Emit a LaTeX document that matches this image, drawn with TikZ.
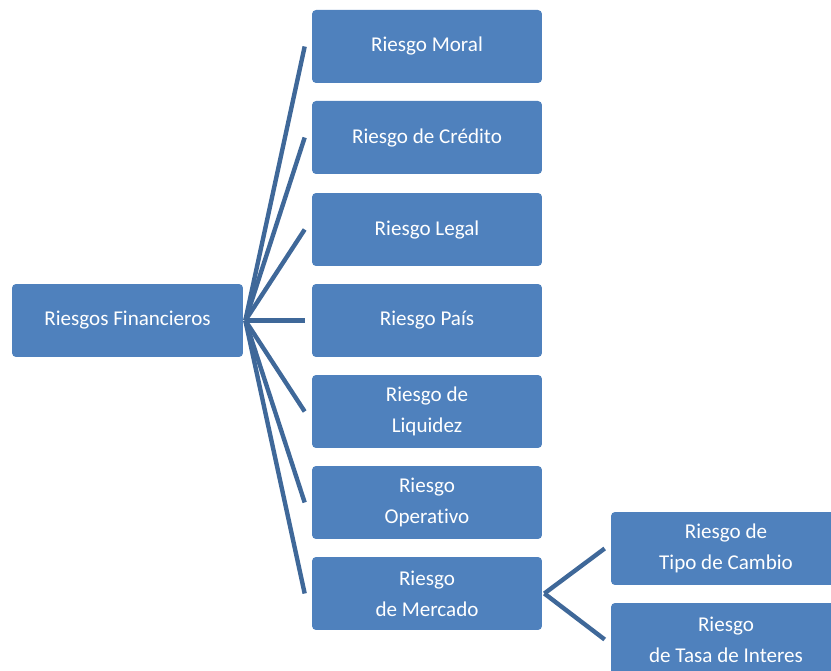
\documentclass[tikz,border=0pt]{standalone}
\usepackage{fontspec}
\setmainfont[Ligatures=NoCommon]{Carlito}
\usetikzlibrary{positioning}
\definecolor{cajaazul}{HTML}{4F81BD}
\definecolor{lineaazul}{HTML}{3F6899}

\tikzset{
  caja/.style={rectangle, rounded corners=0.08cm, fill=cajaazul, text=white,
    minimum width=4.6cm, minimum height=1.46cm, inner sep=0pt, align=center,
    font=\fontsize{12}{17.6}\selectfont},
  conector/.style={draw=lineaazul, line width=2.5pt}
}

\begin{document}
\begin{tikzpicture}[x=0.02cm, y=-0.02cm, line cap=butt, line join=round]
      % Marco
      \clip (0,0) rectangle (831,671);

      % Raiz
      \node[caja, minimum width=4.62cm] (raiz) at (127.5,320.5) {Riesgos Financieros};

      % Tipos de riesgo
      \node[caja] (moral)     at (427,46.5)  {Riesgo Moral};
      \node[caja] (credito)   at (427,137.5) {Riesgo de Crédito};
      \node[caja] (legal)     at (427,229.5) {Riesgo Legal};
      \node[caja] (pais)      at (427,320.5) {Riesgo País};
      \node[caja] (liquidez)  at (427,411.5) {Riesgo de\\Liquidez};
      \node[caja] (operativo) at (427,502.5) {Riesgo\\Operativo};
      \node[caja] (mercado)   at (427,593.5) {Riesgo\\de Mercado};

      % Riesgo de mercado
      \node[caja] (cambio) at (726,548.5) {Riesgo de\\Tipo de Cambio};
      \node[caja] (tasa)   at (726,639.5) {Riesgo\\de Tasa de Interes};

      % Conectores
      \foreach \destino in {moral, credito, legal, pais, liquidez, operativo, mercado}
        \draw[conector] ([xshift=0.04cm]raiz.east) -- ([xshift=-0.14cm]\destino.west);
      \foreach \destino in {cambio, tasa}
        \draw[conector] ([xshift=0.04cm]mercado.east) -- ([xshift=-0.12cm]\destino.west);
    \end{tikzpicture}
\end{document}
